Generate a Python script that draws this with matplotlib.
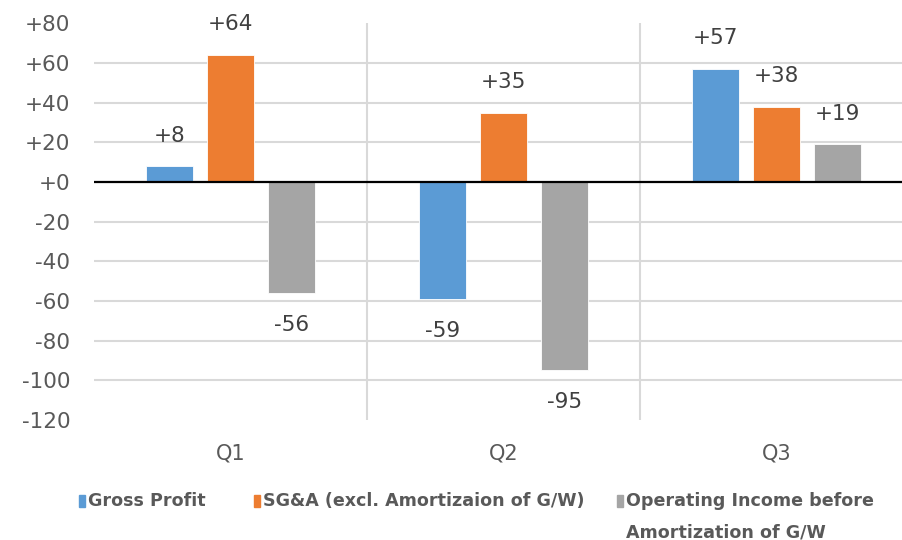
import matplotlib.pyplot as plt
from matplotlib.patches import Rectangle
import numpy as np

# ------------------------------------------------------------
#  data
# ------------------------------------------------------------
quarters = ['Q1', 'Q2', 'Q3']
gross_profit = [8, -59, 57]
sga = [64, 35, 38]
op_income = [-56, -95, 19]

series_names = ['Gross Profit',
                'SG&A (excl. Amortizaion of G/W)',
                'Operating Income before\nAmortization of G/W']
colors = ['#5B9BD5', '#ED7D31', '#A5A5A5']
y_ticks = list(range(-120, 81, 20))

TEXT = '#595959'
GRID = '#D9D9D9'

# ------------------------------------------------------------
#  figure
# ------------------------------------------------------------
W, H = 902, 540
fig = plt.figure(figsize=(W / 100, H / 100), dpi=100)
ax = fig.add_axes([94 / W, 1 - 420 / H, 819 / W, (420 - 23.3) / H])

x = np.arange(len(quarters))
step = 0.2234
width = 0.172

for i, (vals, c) in enumerate(zip([gross_profit, sga, op_income], colors)):
    pos = x + (i - 1) * step
    bars = ax.bar(pos, vals, width, color=c, edgecolor='white', linewidth=0.6, zorder=3)
    for b, v in zip(bars, vals):
        off = 22 if v >= 0 else -23
        ax.annotate(f'{v:+d}', (b.get_x() + b.get_width() / 2, v),
                    xytext=(0, off), textcoords='offset points',
                    ha='center', va='center', fontsize=15.5, color='#404040')

# grid: inner horizontal lines + category dividers
for t in y_ticks[1:-1]:
    ax.axhline(t, color=GRID, lw=1.5, zorder=1)
for d in x[:-1] + 0.5:
    ax.axvline(d, color=GRID, lw=1.5, zorder=1)
ax.axhline(0, color='black', lw=1.6, zorder=4)

ax.set_xlim(-0.5, len(quarters) - 0.5)
ax.set_ylim(-120, 80)
ax.set_yticks(y_ticks)
ax.set_yticklabels([f'{t:+d}' for t in y_ticks], fontsize=15.5, color=TEXT)
ax.set_xticks(x)
ax.set_xticklabels(quarters, fontsize=15, color=TEXT)
ax.tick_params(axis='y', length=0, pad=17)
ax.tick_params(axis='x', length=0, pad=17)
for s in ax.spines.values():
    s.set_visible(False)

# ------------------------------------------------------------
#  legend (drawn by hand, Excel style)
# ------------------------------------------------------------
leg_x = [79, 254, 617]
leg_y = 501
for lx, name, c in zip(leg_x, series_names, colors):
    fig.patches.append(Rectangle((lx / W, 1 - (leg_y + 6) / H), 6 / W, 12 / H,
                                 transform=fig.transFigure, color=c))
    fig.text((lx + 9) / W, 1 - (leg_y - 9) / H, name, ha='left', va='top',
             fontsize=12.6, fontweight='bold', color=TEXT,
             linespacing=1.95)

fig.savefig('out.png', dpi=100)
